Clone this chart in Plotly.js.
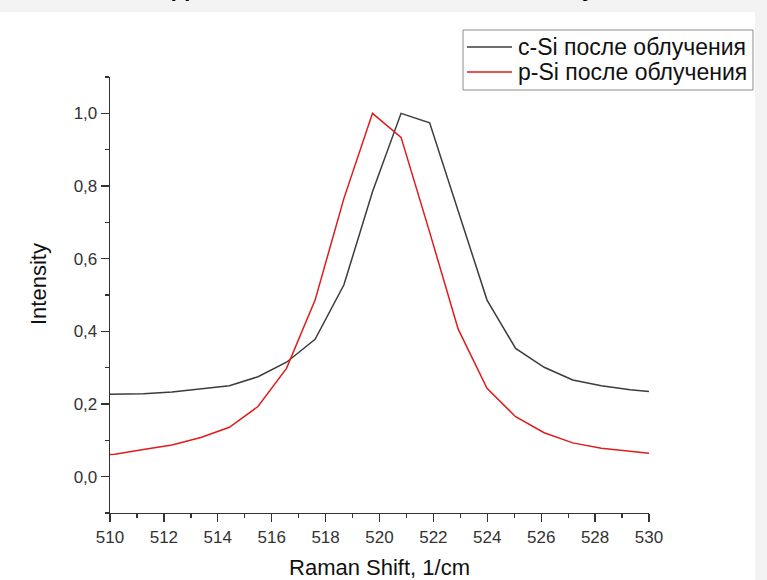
<!DOCTYPE html>
<html>
<head>
<meta charset="utf-8">
<script src="https://cdn.plot.ly/plotly-3.0.1.min.js"></script>
<style>
html,body{margin:0;padding:0;background:#f3f3f3;}
#chart{width:767px;height:580px;}
</style>
</head>
<body>
<div id="chart"></div>
<script>
// Raman shift positions (1/cm)
const ramanShift = [509.12, 510.18, 511.24, 512.30, 513.37, 514.43, 515.49, 516.55, 517.61, 518.68, 519.74,
                    520.80, 521.86, 522.92, 523.99, 525.05, 526.11, 527.17, 528.23, 529.30, 530.36];
// c-Si after irradiation
const cSi = [0.226, 0.227, 0.228, 0.233, 0.241, 0.250, 0.275, 0.315, 0.378, 0.528, 0.784,
             1.000, 0.974, 0.734, 0.486, 0.353, 0.301, 0.266, 0.250, 0.239, 0.232];
// p-Si after irradiation
const pSi = [0.057, 0.062, 0.075, 0.087, 0.108, 0.136, 0.193, 0.298, 0.486, 0.766, 1.000,
             0.934, 0.673, 0.406, 0.243, 0.165, 0.121, 0.093, 0.078, 0.069, 0.062];

const seriesNames = ["c-Si после облучения", "p-Si после облучения"];
const seriesColors = ["#3c3c3c", "#e01b1b"];
const xTitle = "Raman Shift, 1/cm";
const yTitle = "Intensity";
const chartTitle = "Данные КРС Si-пластин после облучения";

const FONT = "'Liberation Sans', Arial, sans-serif";
const AX = "#333333";

// plot area in pixels (for placing the framed legend)
const PL = 110, PR = 649, PT = 77, PB = 513;
const px = v => (v - PL) / (PR - PL);
const py = v => (PB - v) / (PB - PT);

const traces = [
  {x: ramanShift, y: cSi, name: seriesNames[0], type: "scatter", mode: "lines",
   line: {color: seriesColors[0], width: 1.5}},
  {x: ramanShift, y: pSi, name: seriesNames[1], type: "scatter", mode: "lines",
   line: {color: seriesColors[1], width: 1.5}}
];

const axisCommon = {
  showline: true, linecolor: AX, linewidth: 1.3, mirror: false,
  showgrid: false, zeroline: false,
  ticks: "outside", ticklen: 8, tickwidth: 1.3, tickcolor: AX,
  tickfont: {family: FONT, size: 17, color: "#333333"}
};

const shapes = [
  {type: "rect", xref: "paper", yref: "paper", layer: "below",
   x0: px(0), x1: px(755), y0: py(585), y1: py(12),
   fillcolor: "#ffffff", line: {width: 0}},
  {type: "rect", xref: "paper", yref: "paper", layer: "above",
   x0: px(463), x1: px(753), y0: py(90), y1: py(30),
   fillcolor: "#ffffff", line: {color: "#8c8c8c", width: 1}}
];
const annotations = [
  {text: chartTitle, xref: "paper", yref: "paper", x: px(170) - 0.0005, y: 1.17,
   xanchor: "left", yanchor: "bottom", showarrow: false,
   font: {family: FONT, size: 24, color: "#000000", weight: "bold"}},
  {text: yTitle, xref: "paper", yref: "paper", x: px(38), y: py(284),
   xanchor: "center", yanchor: "middle", textangle: -90, showarrow: false,
   font: {family: FONT, size: 22, color: "#111111"}}
];
const legendRows = [47, 72];
seriesNames.forEach((nm, i) => {
  shapes.push({type: "line", xref: "paper", yref: "paper", layer: "above",
    x0: px(467), x1: px(512), y0: py(legendRows[i]), y1: py(legendRows[i]),
    line: {color: seriesColors[i], width: 1.5}});
  annotations.push({text: nm, xref: "paper", yref: "paper",
    x: px(516), y: py(legendRows[i]), xanchor: "left", yanchor: "middle",
    showarrow: false, font: {family: FONT, size: 23, color: "#111111"}});
});

const layout = {
  width: 767, height: 580,
  margin: {l: PL, r: 767 - PR, t: PT, b: 580 - PB},
  paper_bgcolor: "#f3f3f3",
  plot_bgcolor: "#ffffff",
  separators: ",.",
  font: {family: FONT, color: "#222222"},
  showlegend: false,
  xaxis: Object.assign({}, axisCommon, {
    range: [510, 530], tick0: 510, dtick: 2,
    minor: {ticks: "outside", ticklen: 4, tickwidth: 1.3, tickcolor: AX, dtick: 1, showgrid: false},
    title: {text: xTitle, font: {family: FONT, size: 22, color: "#111111"}, standoff: 14}
  }),
  yaxis: Object.assign({}, axisCommon, {
    range: [-0.1, 1.1], tick0: 0, dtick: 0.2, tickformat: ".1f",
    minor: {ticks: "outside", ticklen: 4, tickwidth: 1.3, tickcolor: AX, dtick: 0.1, showgrid: false}
  }),
  shapes: shapes,
  annotations: annotations
};

Plotly.newPlot("chart", traces, layout, {displayModeBar: false, staticPlot: true});
</script>
</body>
</html>
